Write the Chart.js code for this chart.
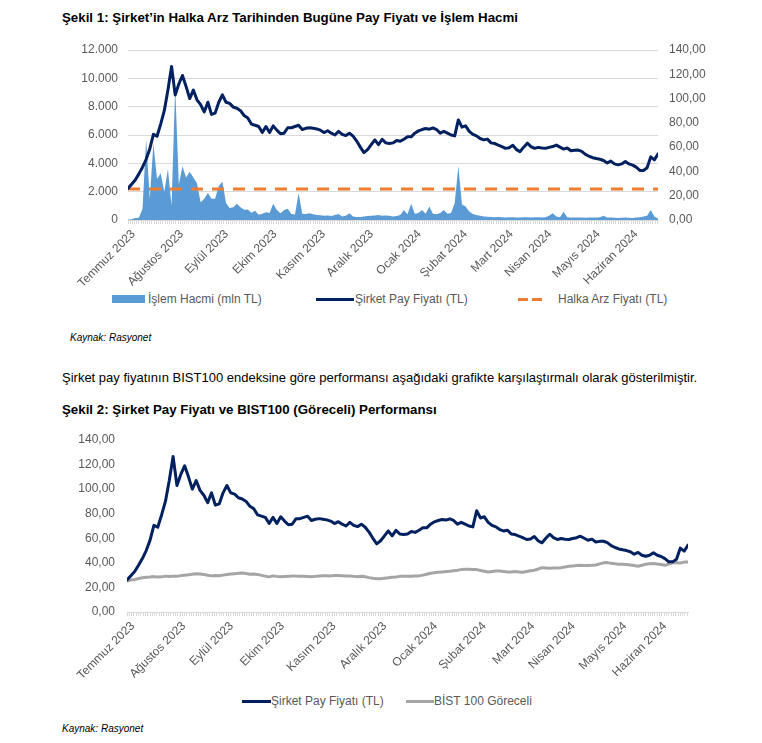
<!DOCTYPE html>
<html><head><meta charset="utf-8">
<script src="https://cdn.jsdelivr.net/npm/chart.js@4.4.1/dist/chart.umd.min.js"></script>
<style>
body{margin:0;background:#fff;width:762px;height:743px;position:relative;overflow:hidden;font-family:'Liberation Sans',Arial,sans-serif;}
.abs{position:absolute;white-space:nowrap;}
.title{font-weight:bold;font-size:13.3px;color:#000;line-height:15px;}
.body{font-size:13px;color:#000;line-height:15px;}
.src{font-style:italic;font-size:10px;color:#000;line-height:12px;}
.leg{font-size:12px;color:#595959;line-height:14px;}
canvas{position:absolute;left:0;}
</style></head><body>
<div class="abs title" style="left:62px;top:10px">Şekil 1: Şirket’in Halka Arz Tarihinden Bugüne Pay Fiyatı ve İşlem Hacmi</div>
<canvas id="c1" width="762" height="290" style="top:0px"></canvas>
<div class="abs" style="left:112px;top:295px;width:33px;height:8px;background:#5B9BD5"></div>
<div class="abs leg" style="left:148px;top:292px">İşlem Hacmi (mln TL)</div>
<div class="abs" style="left:316px;top:298px;width:38px;height:3px;background:#002060"></div>
<div class="abs leg" style="left:355px;top:292px">Şirket Pay Fiyatı (TL)</div>
<div class="abs" style="left:518px;top:298px;width:10px;height:3px;background:#ED7D31"></div>
<div class="abs" style="left:532px;top:298px;width:10px;height:3px;background:#ED7D31"></div>
<div class="abs leg" style="left:558px;top:292px">Halka Arz Fiyatı (TL)</div>
<div class="abs src" style="left:70px;top:332px">Kaynak: Rasyonet</div>
<div class="abs body" style="left:62px;top:370px">Şirket pay fiyatının BIST100 endeksine göre performansı aşağıdaki grafikte karşılaştırmalı olarak gösterilmiştir.</div>
<div class="abs title" style="left:62px;top:402px">Şekil 2: Şirket Pay Fiyatı ve BIST100 (Göreceli) Performansı</div>
<canvas id="c2" width="762" height="290" style="top:400px"></canvas>
<div class="abs" style="left:242px;top:700px;width:29px;height:3px;background:#002060"></div>
<div class="abs leg" style="left:271px;top:694px">Şirket Pay Fiyatı (TL)</div>
<div class="abs" style="left:406px;top:700px;width:28px;height:3px;background:#A5A5A5"></div>
<div class="abs leg" style="left:434px;top:694px">BİST 100 Göreceli</div>
<div class="abs src" style="left:62px;top:723px">Kaynak: Rasyonet</div>
<script>
// month tick labels and their positions (in data-index units along the x axis)
const monthLabels = ['Temmuz 2023','Ağustos 2023','Eylül 2023','Ekim 2023','Kasım 2023','Aralık 2023','Ocak 2024','Şubat 2024','Mart 2024','Nisan 2024','Mayıs 2024','Haziran 2024'];
const monthPos = [1.5, 14.8, 27.2, 40.5, 53.9, 67.1, 80.3, 93.0, 105.6, 116.2, 129.6, 140.0];

// Şirket pay fiyatı (TL)
const price = [
26,29.5,33,38,43.5,50,58.5,70.5,69,79,90,107,126.5,103,112,119,110,100,107,99,
95,89,97,87,88,97,103,97,96,93,92,90,86,84,79,78,77,72,77,72,
77.5,74,71,71.5,76,76,77,78,74.5,75.5,76,75.5,75,74,72,73.5,71.5,70,73,70.5,
69.5,71.5,69,65,60,55.5,58,62,66,62,66.5,63.5,63,63.5,65.5,64.8,66.5,68.5,68.5,71.5,
73.4,74.5,75.3,74.8,75.8,74.5,71.5,73,71.5,70,69.3,82.4,76.5,77.5,73,70.5,69.3,67.1,66,66.6,
63.5,63,61.7,60.5,59,59.5,61.5,58,56.3,60,63.3,60.5,59,59.8,59.3,59,59.8,60.5,61.7,60,
58.4,59.3,57,57.5,57.6,56.5,54,52.5,51.3,50.6,50,49,47,48.5,46.2,45.4,46.2,48.2,46.2,45.2,
43.5,40.8,40.8,43,52,49.5,54.4];

// İşlem hacmi (mln TL)
const volume = [
30,60,150,160,800,5700,1500,5400,2900,3300,2000,3600,1000,9400,2500,3800,3000,3400,3000,2600,
1250,1500,1900,1500,1500,2400,2700,1200,850,900,1150,900,720,750,520,650,370,450,550,500,
1150,700,470,700,800,420,380,1900,450,420,470,400,350,330,300,320,280,350,420,250,
300,470,250,220,220,250,280,300,320,350,300,320,300,250,280,350,700,400,1150,450,
500,700,450,950,450,400,500,700,450,500,1200,3800,1100,950,600,420,350,300,250,230,
220,200,210,190,180,200,190,180,170,200,190,180,200,190,180,200,300,470,250,200,
590,200,180,170,180,170,160,170,180,170,200,300,180,170,160,150,160,170,160,150,
170,200,250,300,700,250,100];

// BIST 100 göreceli
const bist = [
25.3,26.0,26.5,27.3,27.8,28.3,28.5,28.8,28.4,28.6,29.2,28.9,29.2,29.0,29.6,30.0,30.3,30.8,31.2,31.0,
30.5,29.9,29.4,29.8,29.5,30.0,30.5,30.9,31.2,31.5,31.8,31.3,30.8,31.0,30.6,29.8,29.2,28.6,29.4,29.0,
28.7,28.9,29.0,29.3,29.2,29.0,29.0,28.8,28.6,29.0,29.3,29.5,29.6,29.4,29.8,29.7,29.6,29.4,29.3,29.0,
28.7,29.1,28.7,28.0,27.4,27.1,27.1,27.5,27.8,28.2,28.5,29.0,29.0,29.2,29.1,29.3,29.4,30.0,30.7,31.5,
31.9,32.3,32.6,32.9,33.2,33.6,34.0,34.5,34.7,34.8,34.6,34.5,33.8,33.2,32.6,33.0,33.4,33.3,33.0,32.5,
32.5,32.9,32.6,32.3,33.0,33.5,34.0,35.0,36.1,35.9,35.6,35.8,35.9,36.1,36.7,37.2,37.5,37.8,38.0,37.9,
37.8,38.0,38.3,39.2,40.0,40.2,39.6,39.2,38.9,38.8,38.6,38.3,37.8,37.3,38.0,38.9,39.2,39.4,39.0,38.6,
38.0,39.0,40.0,40.0,39.9,40.6,40.8];

const halkaArzFiyati = 25.5;

const leftTicks = [0, 2000, 4000, 6000, 8000, 10000, 12000];
const rightTicks = [0, 20, 40, 60, 80, 100, 120, 140];

const FONT = "'Liberation Sans', Arial, sans-serif";
const GREY_TXT = '#595959';
const idx = price.map((_, i) => i);
const lastIdx = price.length - 1;

// axis comb: one small tick mark per trading day (about 0.6 index units apart)
function xTicksList() {
  const t = [];
  const step = 0.6;
  for (let k = 0; k * step <= lastIdx + 1e-9; k++) t.push({ value: +(k * step).toFixed(3), m: -1 });
  monthPos.forEach((p, k) => t.push({ value: p, m: k }));
  t.sort((a, b) => a.value - b.value);
  return t;
}

function xAxis(height) {
  return {
    type: 'linear', min: 0, max: lastIdx, offset: false,
    afterBuildTicks: s => { s.ticks = xTicksList(); },
    afterFit: s => { s.height = height; },
    ticks: {
      autoSkip: false, minRotation: 45, maxRotation: 45, padding: 3,
      color: GREY_TXT, font: { family: FONT, size: 12 },
      callback: (v, i, t) => (t[i] && t[i].m >= 0) ? monthLabels[t[i].m] : ''
    },
    grid: {
      drawOnChartArea: false, drawTicks: true, tickLength: 4, lineWidth: 1,
      color: c => (c.tick && c.tick.m >= 0) ? 'rgba(0,0,0,0)' : '#d9d9d9'
    },
    border: { display: true, color: '#d9d9d9', width: 1 }
  };
}

const fmtThousands = v => String(v).replace(/\B(?=(\d{3})+(?!\d))/g, '.');
const fmtDec = v => Number(v).toFixed(2).replace('.', ',');

Chart.defaults.font.family = FONT;

const lineStyle = { pointRadius: 0, tension: 0, fill: false, borderJoinStyle: 'round', borderCapStyle: 'round' };

new Chart(document.getElementById('c1'), {
  type: 'line',
  data: {
    labels: idx,
    datasets: [
      Object.assign({ label: 'Şirket Pay Fiyatı (TL)', data: price, yAxisID: 'yR', borderColor: '#002060', borderWidth: 3, order: 1 }, lineStyle),
      { label: 'Halka Arz Fiyatı (TL)', data: price.map(() => halkaArzFiyati), yAxisID: 'yR', borderColor: '#ED7D31',
        borderWidth: 3, borderDash: [12, 9], pointRadius: 0, fill: false, order: 2 },
      { label: 'İşlem Hacmi (mln TL)', data: volume, yAxisID: 'yL', borderWidth: 0, borderColor: 'rgba(0,0,0,0)',
        backgroundColor: '#5B9BD5', pointRadius: 0, tension: 0, fill: 'origin', order: 3 }
    ]
  },
  options: {
    responsive: false, animation: false, devicePixelRatio: 1,
    layout: { padding: { top: 50, left: 0, right: 0, bottom: 0 } },
    plugins: { legend: { display: false }, tooltip: { enabled: false } },
    scales: {
      x: xAxis(70),
      yL: {
        position: 'left', min: 0, max: 12000,
        afterBuildTicks: s => { s.ticks = leftTicks.map(v => ({ value: v })); },
        afterFit: s => { s.width = 128; },
        ticks: { padding: 10, color: GREY_TXT, font: { family: FONT, size: 12 }, callback: v => fmtThousands(v) },
        grid: { color: '#d9d9d9', lineWidth: 1, drawTicks: false },
        border: { display: false }
      },
      yR: {
        position: 'right', min: 0, max: 140,
        afterBuildTicks: s => { s.ticks = rightTicks.map(v => ({ value: v })); },
        afterFit: s => { s.width = 104; },
        ticks: { padding: 11, color: GREY_TXT, font: { family: FONT, size: 12 }, callback: v => fmtDec(v) },
        grid: { display: false, drawTicks: false },
        border: { display: false }
      }
    }
  }
});

new Chart(document.getElementById('c2'), {
  type: 'line',
  data: {
    labels: idx,
    datasets: [
      Object.assign({ label: 'Şirket Pay Fiyatı (TL)', data: price, borderColor: '#002060', borderWidth: 3, order: 1 }, lineStyle),
      Object.assign({ label: 'BİST 100 Göreceli', data: bist, borderColor: '#A5A5A5', borderWidth: 3, order: 2 }, lineStyle)
    ]
  },
  options: {
    responsive: false, animation: false, devicePixelRatio: 1,
    layout: { padding: { top: 40, left: 0, right: 74, bottom: 0 } },
    plugins: { legend: { display: false }, tooltip: { enabled: false } },
    scales: {
      x: xAxis(78),
      y: {
        position: 'left', min: 0, max: 140,
        afterBuildTicks: s => { s.ticks = rightTicks.map(v => ({ value: v })); },
        afterFit: s => { s.width = 127; },
        ticks: { padding: 12, color: GREY_TXT, font: { family: FONT, size: 12 }, callback: v => fmtDec(v) },
        grid: { display: false, drawTicks: false },
        border: { display: false }
      }
    }
  }
});
</script>
</body></html>
